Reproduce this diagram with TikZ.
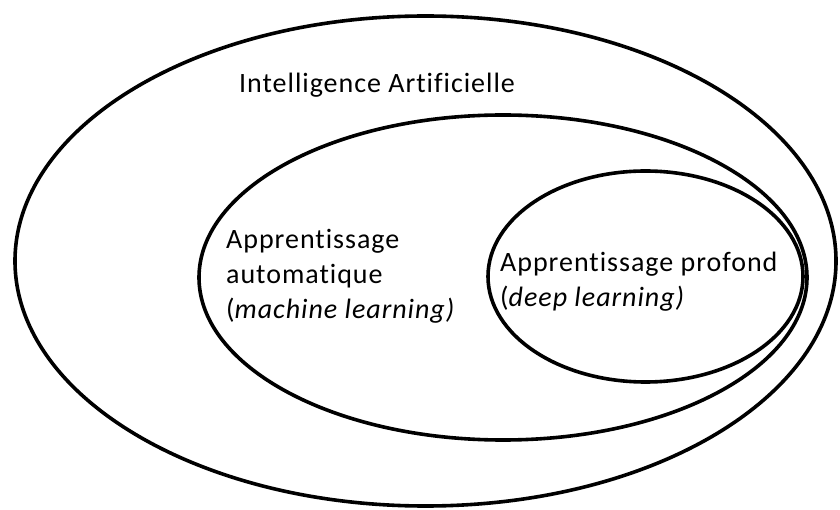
\documentclass[tikz,border=0pt]{standalone}
\usepackage{fontspec}
\setmainfont{Carlito}[Ligatures=NoCommon, LetterSpace=3.5]
\usetikzlibrary{positioning, shapes.geometric}

\begin{document}
\begin{tikzpicture}[
  x=1pt, y=-1pt,
  fieldset/.style={draw, ellipse, line width=3.6pt, inner sep=0pt},
  fieldname/.style={font=\fontsize{28}{35}\selectfont, inner sep=0pt, align=left}
]
\useasboundingbox (0,0) rectangle (840,510);

% Nested domains
\node[fieldset, minimum width=821pt, minimum height=490pt] (ia) at (425.5,261) {};
\node[fieldset, minimum width=608pt, minimum height=325pt] (ml) at (503,277.5) {};
\node[fieldset, minimum width=315pt, minimum height=211pt] (dl) at (645.5,276.5) {};

% Names
\node[fieldname, anchor=base west] (ianame) at (239,93) {Intelligence Artificielle};
\node[fieldname, anchor=north west] (mlname) at (226,229) {Apprentissage\\automatique\\(\textit{machine learning)}};
\node[fieldname, anchor=north west] (dlname) at (500,252) {Apprentissage profond\\(\textit{deep learning)}};

\end{tikzpicture}
\end{document}
